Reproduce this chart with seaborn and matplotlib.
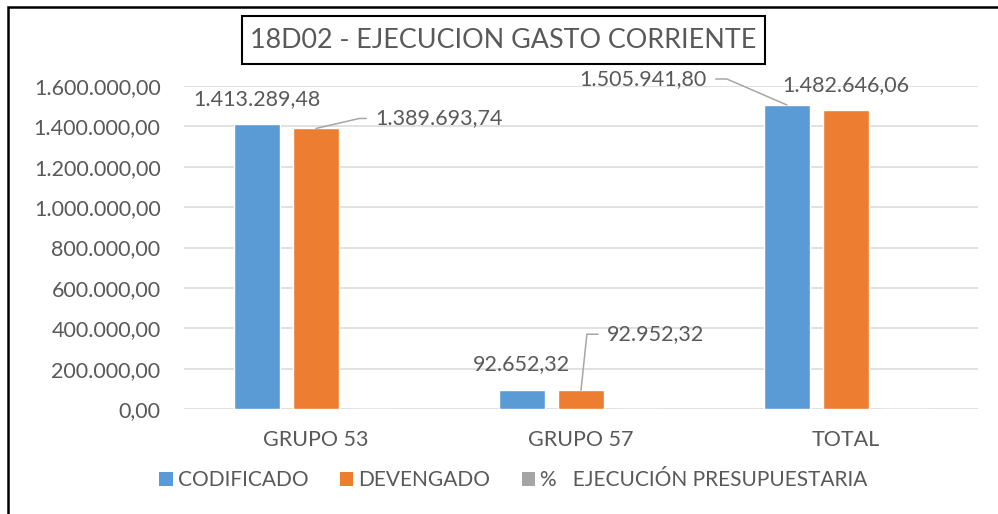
import numpy as np
import pandas as pd
import matplotlib
matplotlib.use("Agg")
import matplotlib.pyplot as plt
import seaborn as sns
from matplotlib.patches import Rectangle, Patch
from matplotlib.ticker import FuncFormatter

categories = ["GRUPO 53", "GRUPO 57", "TOTAL"]
series_names = ["CODIFICADO", "DEVENGADO", "%   EJECUCIÓN PRESUPUESTARIA"]
codificado = [1413289.48, 92652.32, 1505941.80]
devengado = [1389693.74, 92952.32, 1482646.06]
pct_ejecucion = [0.98, 1.00, 0.98]
colors = ["#5B9BD5", "#ED7D31", "#A5A5A5"]
title = "18D02 - EJECUCION GASTO CORRIENTE"

sns.set_theme(style="white")
plt.rcParams["font.family"] = ["Lato", "DejaVu Sans"]
TXT = "#595959"
FS = 15.5

df = pd.DataFrame({
    "cat": categories * 3,
    "serie": [series_names[0]] * 3 + [series_names[1]] * 3 + [series_names[2]] * 3,
    "valor": codificado + devengado + pct_ejecucion,
})

fig = plt.figure(figsize=(9.98, 5.14), dpi=100)
W, H = 998, 514
ax = fig.add_axes([183.5 / W, 1 - 409 / H, 795 / W, 323 / H])

sns.barplot(data=df, x="cat", y="valor", hue="serie", order=categories,
            hue_order=series_names, palette=colors, width=0.669, gap=0.22,
            errorbar=None, legend=False, ax=ax, saturation=1)

ax.set_xlim(-0.5, 2.5)
ax.set_ylim(0, 1600000)
ax.set_yticks(np.arange(0, 1600001, 200000))
ax.yaxis.set_major_formatter(FuncFormatter(
    lambda v, p: f"{v:,.2f}".replace(",", "X").replace(".", ",").replace("X", ".")))
ax.yaxis.grid(True, color="#D9D9D9", lw=1.1)
ax.set_axisbelow(True)
for s in ax.spines.values():
    s.set_visible(False)
ax.set_xlabel("")
ax.set_ylabel("")
ax.tick_params(axis="y", length=0, pad=16.5, labelsize=FS, labelcolor=TXT)
ax.tick_params(axis="x", length=0, pad=15, labelsize=FS, labelcolor=TXT)


def fmt(v):
    return f"{v:,.2f}".replace(",", "X").replace(".", ",").replace("X", ".")

conts = ax.containers
def top(series_idx, cat_idx):
    p = conts[series_idx].patches[cat_idx]
    return p.get_x() + p.get_width() / 2, p.get_height()

lead = dict(arrowstyle="-", color="#A6A6A6", lw=1.1, shrinkA=4, shrinkB=0)

# plain labels
for si, ci, dy in [(0, 0, 25), (1, 2, 25), (0, 1, 26)]:
    x, y = top(si, ci)
    ax.annotate(fmt([codificado, devengado][si][ci]), (x, y), xytext=(0, dy),
                textcoords="offset pixels", ha="center", va="center",
                fontsize=FS, color=TXT)

# labels with leader lines
x, y = top(1, 0)
ax.annotate(fmt(devengado[0]), (x, y), xytext=(59, 10), textcoords="offset pixels",
            ha="left", va="center", fontsize=FS, color=TXT,
            arrowprops=dict(lead, relpos=(0, 0.5),
                            connectionstyle="angle,angleA=0,angleB=13,rad=0"))
x, y = top(0, 2)
ax.annotate(fmt(codificado[2]), (x, y), xytext=(-80, 26), textcoords="offset pixels",
            ha="right", va="center", fontsize=FS, color=TXT,
            arrowprops=dict(lead, relpos=(1, 0.5),
                            connectionstyle="angle,angleA=0,angleB=156.6,rad=0"))
x, y = top(1, 1)
ax.annotate(fmt(devengado[1]), (x, y), xytext=(26, 56), textcoords="offset pixels",
            ha="left", va="center", fontsize=FS, color=TXT,
            arrowprops=dict(lead, relpos=(0, 0.5),
                            connectionstyle="angle,angleA=0,angleB=84,rad=0"))

# title with box
fig.add_artist(Rectangle((242 / W, 1 - 64 / H), 523 / W, 48 / H, transform=fig.transFigure,
                         fill=False, edgecolor="black", lw=1.5))
fig.text(503.5 / W, 1 - 40 / H, title, ha="center", va="center", fontsize=19.4, color=TXT)

# outer border
fig.add_artist(Rectangle((8 / W, -0.05), 1.2, 1 - 7 / H + 0.05, transform=fig.transFigure,
                         fill=False, edgecolor="black", lw=1.8))

handles = [Patch(facecolor=c, edgecolor="none") for c in colors]
fig.legend(handles, series_names, loc="center", bbox_to_anchor=(513.5 / W, 1 - 480 / H),
           ncol=3, frameon=False, fontsize=15, labelcolor=TXT, handlelength=0.65,
           handleheight=0.65, handletextpad=0.25, columnspacing=1.5)

fig.savefig("out.png", dpi=100)
